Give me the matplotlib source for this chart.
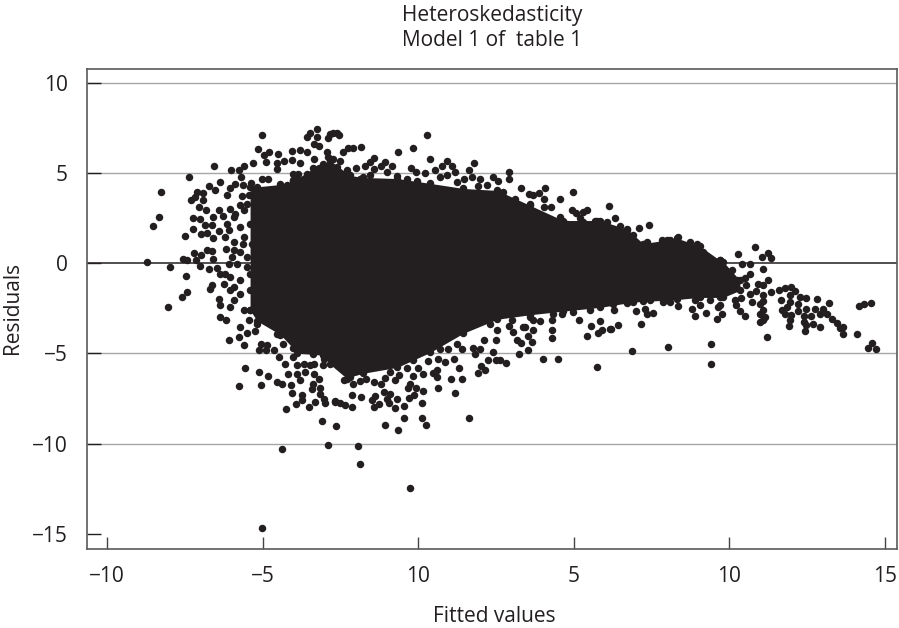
import matplotlib
matplotlib.use("Agg")
import matplotlib.pyplot as plt

title_lines = ["Heteroskedasticity", "Model 1 of  table 1"]
x_label = "Fitted values"
y_label = "Residuals"
x_ticks = [-10, -5, 0, 5, 10, 15]
x_tick_labels = ["\u221210", "\u22125", "10", "5", "10", "15"]
y_ticks = [-15, -10, -5, 0, 5, 10]
y_tick_labels = ["\u221215", "\u221210", "\u22125", "0", "5", "10"]

# Outline of the solid mass of overlapping observations
mass_x = [-5.40, -5.17, -4.43, -4.02, -3.89, -3.37, -3.05, -2.83, -2.28, -2.18, -1.77, -0.67, 0.39, 1.45,
          2.54, 3.60, 4.66, 5.85, 6.71, 6.91, 7.23, 8.0, 8.32, 9.06, 9.70, 9.80, 10.34]
mass_hi = [4.22, 4.25, 4.38, 4.55, 4.7, 5.27, 5.5, 5.71, 5.0, 4.88, 4.77, 4.71, 4.44, 4.16,
           4.05, 3.22, 2.38, 2.38, 1.9, 1.6, 1.1, 1.3, 1.4, 0.95, 0.17, 0.1, -0.94]
mass_lo = [-2.6, -3.2, -3.95, -4.7, -4.99, -5.05, -5.10, -5.6, -6.4, -6.3, -6.10, -5.77, -4.94, -3.88,
           -3.1, -2.85, -2.65, -2.44, -2.2, -2.16, -2.1, -2.05, -2.0, -1.89, -1.89, -1.89, -1.50]

# Separately visible observations
fitted = [
    -5.02, -3.26, -3.49, -3.56, -3.26, -3.36, -3.20, -2.83, -2.61, -2.88, -5.13, -4.94, -4.78, -4.49, -4.04, -3.81,
    -3.58, -2.93, -2.88, -4.88, -4.54, -4.30, -4.05, -3.81, -3.36, -5.29, -6.57, -5.61, -5.77, -6.01, -4.54, -4.01,
    -3.85, -3.20, -7.37, -5.68, -4.01, -5.02, -4.81, -6.36, -5.36, -6.73, -5.88, -6.04, -5.64, -8.26, -7.09, -6.52,
    -6.90, -7.16, -7.30, -6.15, -6.92, -5.66, -5.45, -7.04, -6.81, -6.40, -6.04, -5.72, -5.61, -8.33, -8.53, -7.24,
    -7.00, -6.58, -6.28, -5.91, -7.24, -6.84, -6.63, -6.41, -6.09, -6.98, -6.77, -7.50, -6.59, -6.19, -5.91, -5.64,
    -6.17, -6.79, -6.61, -7.21, -6.98, -6.59, -5.99, -5.72, -7.57, -7.43, -7.14, -8.71, -7.98, -7.00, -6.73, -6.47,
    -6.09, -7.47, -6.20, -6.63,
    -7.43, -7.60, -8.05, -6.68, -6.41, -6.36, -6.36, -6.18, -6.04, -5.72, -5.51, -5.24, -5.76, -6.07, -5.59, -5.04,
    -4.84, -5.11, -4.88, -4.62, -4.47, -4.27, -3.88, -5.56, -5.10, -4.83, -4.19, -3.63, -3.88, -3.36, -4.54, -4.37,
    -5.75, -5.04, -4.09, -3.79, -3.39, -3.17, -3.42, -3.15, -4.05, -3.73, -3.15, -3.74, -3.93, -3.31, -3.04, -2.98,
    -2.67, -4.26, -3.52, -3.08, -2.65, -2.88, -4.38, -3.04, -3.06, -3.47, -5.01, -1.93, -1.86, -0.26,
    -2.38, -2.08, -1.86, -1.67, -1.43, -1.19, -1.06, -0.74, -0.63, -0.18, 0.01, 0.17, 0.33, 0.47, 0.62, 0.60,
    1.05, 1.40, 1.30, 0.65, 0.87, 1.16, 0.65, 1.17, 0.17, -0.06, -0.26, -0.31, -0.12, -0.30, -1.11, -0.90,
    -2.12, -1.84, -1.38, -1.49, -1.01, -0.69, -1.27, -0.92, -1.43, -0.74, -0.45, 0.14, -2.68, -2.51, -2.36, -2.11,
    -0.45, 0.14, 0.25, -1.06, -0.66, 1.62, 1.92, 2.01, 2.16, 2.26, 2.42, 2.50, 2.82, 2.63, 1.83, 1.99,
    1.78, 2.13, 2.50, 1.40, 1.24, 3.25, 3.52, 3.65, 3.17, 3.30, 4.00, 4.49, 4.29, 4.29, 4.29, 3.92,
    3.68, 3.54, 3.44, 3.06, 2.92, 2.53, 2.31, 5.17, 5.55, 5.42, 5.79, 5.90, 5.85, 5.74, 6.17, 5.53,
    4.99, 4.64,
    0.28, -0.15, -0.66, -1.82, -2.08, -2.24, -2.42, -2.53, -2.72, 0.39, -1.43, -1.54, -1.70, -2.00, -1.06, -1.19,
    -0.85, -1.43, -0.24, -0.06, 0.22, 0.55, 0.78, 0.92, 1.08, 1.81, 1.62, 1.19, 1.46, 1.72, 1.99, 1.94,
    2.42, 2.58, 2.92, 2.92, 3.31, 3.57, 4.08, 3.87, 3.68, 4.97, 4.56, 4.03, 3.60, 4.27, 4.94, 5.08,
    5.31, 5.44, 5.20, 6.15, 5.69, 0.71, -1.88, -0.37, -0.69,
    6.34, 7.11, 7.43, 10.27, 10.84, 11.04, 11.25, 11.34, 10.40, 10.66, 11.07, 9.70, 10.66, 10.50, 10.54, 11.23,
    11.09, 10.91, 10.86, 10.66, 11.33, 11.61, 11.79, 11.97, 12.11, 11.95, 11.09, 10.38, 10.18, 10.21, 10.72, 10.99,
    11.09, 11.65, 12.27, 12.46, 12.83, 13.20, 11.95, 12.22, 12.48, 12.75, 13.02, 11.84, 11.68, 12.22, 11.79, 11.97,
    12.61, 12.40, 12.91, 13.13, 13.29, 13.47, 13.66, 13.56, 13.67, 14.09, 14.18, 14.34, 14.55, 14.47, 14.60, 14.70,
    11.09, 10.99, 11.15, 11.09, 11.00, 11.20, 11.95, 11.93, 12.40, 12.48, 12.70, 12.91, 12.44, 9.41, 9.41, 8.03,
    6.87, 7.15, 6.43, 6.20, 6.99, 7.29, 7.35, 7.56, 6.31, 8.34, 8.09, 8.90, 9.24, 9.61, 9.78, 9.70,
    8.79, 9.06, 10.34, 10.51,
]
residuals = [
    7.15, 7.47, 7.23, 7.01, 7.01, 6.64, 6.54, 7.19, 7.23, 6.95, 6.34, 6.03, 6.16, 6.05, 6.23, 6.30,
    6.19, 6.17, 5.90, 5.62, 5.56, 5.71, 5.75, 5.58, 5.79, 5.56, 5.40, 5.40, 5.16, 5.16, 5.25, 4.97,
    4.94, 5.31, 4.81, 4.81, 4.64, 4.70, 4.66, 4.49, 4.46, 4.31, 4.42, 4.20, 4.34, 3.96, 3.99, 4.09,
    3.90, 3.68, 3.53, 3.77, 3.53, 3.72, 3.77, 3.12, 2.94, 2.99, 3.03, 3.22, 2.94, 2.57, 2.09, 2.51,
    2.47, 2.57, 2.61, 2.57, 1.92, 2.14, 2.11, 1.79, 1.83, 1.64, 1.68, 1.54, 1.39, 1.46, 1.17, 1.05,
    0.78, 0.72, 0.68, 0.57, 0.48, 0.26, 0.38, 0.63, 0.22, 0.17, 0.17, 0.07, -0.22, -0.17, -0.30, -0.24,
    -0.06, -0.68, -0.57, -1.22,
    -1.59, -1.87, -2.42, -1.40, -1.96, -2.33, -2.98, -3.16, -2.42, -3.53, -3.85, -3.77, -4.09, -4.27, -4.55, -4.46,
    -4.55, -4.79, -4.79, -4.79, -5.20, -5.57, -5.66, -5.81, -6.05, -6.25, -6.14, -6.03, -6.12, -6.12, -6.60, -6.67,
    -6.79, -6.77, -6.77, -6.49, -6.67, -6.43, -6.95, -6.90, -7.17, -7.28, -7.23, -7.60, -7.78, -7.69, -7.51, -7.75,
    -7.67, -8.06, -7.97, -8.75, -9.04, -10.09, -10.32, -5.29, -5.66, -5.66, -14.70, -10.15, -11.15, -12.48,
    -6.49, -6.67, -6.53, -6.40, -6.56, -6.71, -6.34, -6.49, -6.21, -6.27, -5.82, -6.16, -5.44, -6.06, -5.90, -6.30,
    -6.40, -6.40, -5.79, -5.29, -5.47, -5.29, -6.93, -7.17, -7.08, -6.90, -6.71, -6.90, -7.28, -7.49, -7.14, -7.23,
    -7.30, -7.41, -7.38, -7.56, -7.51, -7.54, -7.78, -7.75, -7.97, -8.01, -7.93, -7.77, -7.64, -7.73, -7.88, -7.97,
    -8.56, -8.56, -8.95, -8.99, -9.26, -8.58, -6.08, -5.71, -5.90, -5.38, -4.92, -5.34, -5.53, -5.38, -5.01, -4.73,
    -4.68, -4.27, -4.23, -4.73, -4.46, -5.05, -4.79, -4.36, -4.27, -4.42, -5.29, -5.29, -4.12, -3.68, -3.12, -3.20,
    -3.72, -4.05, -3.53, -3.81, -3.49, -3.72, -3.35, -3.12, -3.48, -4.05, -3.87, -3.72, -3.20, -5.75, -3.62, -2.57,
    -2.70, -2.79,
    7.15, 6.42, 6.21, 6.47, 6.40, 6.40, 6.17, 7.15, 7.23, 5.80, 5.84, 5.62, 5.40, 5.29, 5.62, 5.43,
    5.43, 5.25, 5.29, 5.05, 5.01, 5.16, 5.43, 5.66, 5.43, 5.58, 5.21, 5.07, 4.70, 4.79, 4.66, 4.27,
    4.82, 4.60, 5.08, 4.66, 4.18, 3.86, 4.18, 3.92, 3.77, 3.96, 3.59, 3.59, 3.31, 3.12, 2.98, 2.79,
    2.88, 2.98, 2.53, 3.18, 2.35, 4.79, 4.70, 4.70, 4.84,
    2.53, 1.94, 2.14, 0.54, 0.90, 0.35, 0.57, 0.30, -0.02, -0.02, -0.30, 0.17, -0.61, -0.80, -1.18, -0.91,
    -1.22, -1.16, -1.53, -1.68, -1.57, -1.50, -1.35, -1.31, -1.53, -1.78, -1.78, -1.94, -2.05, -2.33, -2.14, -2.24,
    -2.09, -2.05, -1.87, -1.94, -1.98, -2.20, -2.14, -2.27, -2.52, -2.52, -2.52, -2.42, -2.57, -2.64, -2.79, -2.85,
    -2.92, -2.94, -2.79, -2.83, -3.07, -3.31, -3.53, -3.59, -3.90, -3.90, -2.35, -2.27, -2.18, -4.68, -4.40, -4.73,
    -2.61, -2.79, -2.98, -3.16, -3.25, -4.07, -3.16, -3.49, -3.25, -3.44, -3.38, -3.53, -3.75, -4.49, -5.56, -4.64,
    -4.88, -3.37, -3.44, -3.62, -2.63, -2.52, -2.79, -2.75, -2.61, -2.39, -2.14, -2.94, -2.75, -3.07, -2.79, -2.33,
    -2.52, -2.33, -2.66, -2.94,
]

# Observations crowding the edge of the solid mass
edge_fitted = [
    -5.51, -5.29, -5.88, -6.15, -5.72, -5.40, -5.61, -5.34, -5.93, -5.51, -5.83, -5.51, -6.36, -6.04, -5.72, -5.40,
    -6.25, -5.93, -6.04, -5.72, -5.40, -5.93, -5.61, -5.40, -5.45, -5.18, -4.54, -4.33, -4.01, -3.68, -3.36,
    -4.43, -4.22, -3.58, -3.36, -3.04, -2.72, -2.61, -2.51, -2.29, -1.54, -1.01, -0.04, 0.92, 1.24, 2.21, 2.74,
    3.12, 4.03, 4.56, 4.78, 5.31, 5.74, 6.06, 6.70, 6.49, 7.35, 7.83, 8.09, 8.36, 8.74, 8.95, 9.17, 10.08, 10.24,
    -0.15, -0.37, -0.90, 0.71, 0.97, 3.70, 3.38, 3.01, 3.60, 4.35, 7.24, 7.45, 7.88, 8.47, 8.90, 9.38, 9.65, 6.70, 6.27,
]
edge_residuals = [
    3.31, 3.86, 2.75, 2.20, 2.02, 2.20, 1.46, 1.09, 0.72, 0.35, -0.02, -0.20, -0.57, -0.76, -0.94, -0.57,
    -1.13, -1.31, -1.50, -1.68, -1.50, -2.05, -2.61, -2.61, -3.16, -3.35, -3.90, -4.46, -5.20, -5.57, -5.57,
    4.14, 4.33, 4.97, 5.25, 5.43, 5.80, 5.34, 5.71, 5.16, 4.88, 5.07, 4.60, 4.88, 4.51, 4.33, 3.95,
    3.59, 3.12, 2.57, 2.20, 2.29, 2.38, 2.29, 1.83, 2.10, 1.18, 1.31, 1.31, 1.46, 1.18, 1.09, 0.63, -0.39, -0.94,
    -5.38, -5.79, -6.03, -4.73, -4.73, -3.16, -3.53, -3.16, -2.98, -2.79, -2.05, -2.02, -2.14, -1.78, -2.05, -2.05, -2.42, -2.02, -2.24,
]

INK = "#231f20"
GREY = "#a6a6a6"
SPINE = "#5a5a5a"
DOT = 29
TEXT_SIZE = 15
plt.rcParams["font.family"] = ["Open Sans", "DejaVu Sans"]

fig = plt.figure(figsize=(8.99, 6.28), dpi=100)
ax = fig.add_axes([86.7 / 899, 1 - 549.3 / 628, (896.7 - 86.7) / 899, (549.3 - 69) / 628])
ax.set_xlim(-10.65, 15.38)
ax.set_ylim(-15.87, 10.79)

for v in y_ticks:
    if v == 0:
        ax.axhline(v, color=INK, lw=1.1, zorder=1)
    elif v != -15:
        ax.axhline(v, color=GREY, lw=1.0, zorder=1)

ax.fill_between(mass_x, mass_lo, mass_hi, color=INK, lw=0, zorder=2)
ax.scatter(mass_x, mass_hi, s=DOT, color=INK, lw=0, zorder=2)
ax.scatter(mass_x, mass_lo, s=DOT, color=INK, lw=0, zorder=2)
ax.scatter(edge_fitted, edge_residuals, s=DOT, color=INK, lw=0, zorder=3)
ax.scatter(fitted, residuals, s=DOT, color=INK, lw=0, zorder=3)

ax.set_xticks(x_ticks)
ax.set_xticklabels(x_tick_labels)
ax.set_yticks(y_ticks)
ax.set_yticklabels(y_tick_labels)
ax.tick_params(axis="x", direction="in", length=8.6, width=1, color="#444444",
               labelsize=TEXT_SIZE, labelcolor=INK, pad=12)
ax.tick_params(axis="y", direction="in", length=10, width=1, color=INK,
               labelsize=TEXT_SIZE, labelcolor=INK, pad=13.5)
for side in ax.spines.values():
    side.set_color(SPINE)
    side.set_linewidth(1.2)

fig.text(494.5 / 899, 1 - 622 / 628, x_label, ha="center", va="baseline", fontsize=TEXT_SIZE, color=INK)
fig.text(23 / 899, 1 - 308 / 628, y_label, ha="right", va="center", rotation=90, fontsize=TEXT_SIZE, color=INK)
fig.text(492 / 899, 1 - 21 / 628, title_lines[0], ha="center", va="baseline", fontsize=TEXT_SIZE, color=INK)
fig.text(492 / 899, 1 - 46 / 628, title_lines[1], ha="center", va="baseline", fontsize=TEXT_SIZE, color=INK)

fig.savefig("out.png", dpi=100)
print(len(fitted), len(residuals), len(edge_fitted), len(edge_residuals))
